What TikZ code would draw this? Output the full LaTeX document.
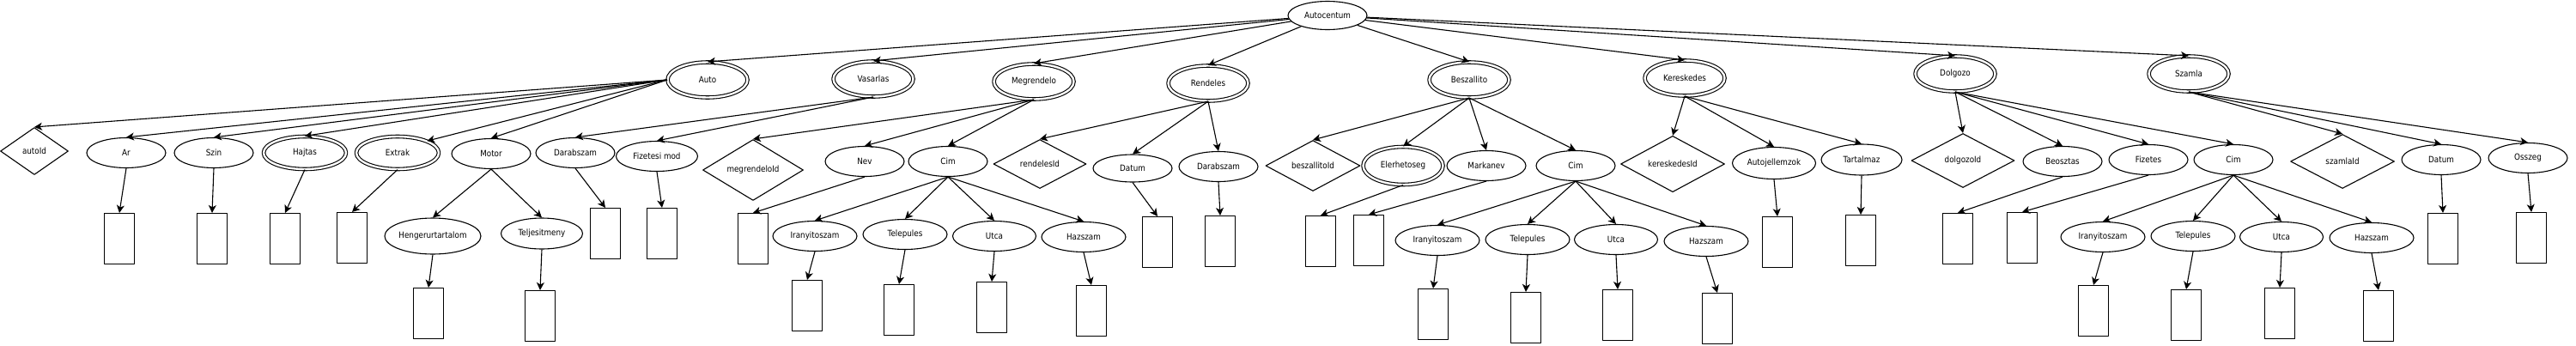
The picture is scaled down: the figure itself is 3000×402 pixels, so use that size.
\documentclass[tikz,border=0pt]{standalone}
\usepackage{fontspec}
\setmainfont{DejaVu Sans}[FakeStretch=0.88]
\usetikzlibrary{shapes.geometric,arrows.meta}
\begin{document}
\begin{tikzpicture}[x=1pt,y=-1pt,font=\fontsize{10}{12}\selectfont,line width=1.1pt,line join=round,>={Stealth[length=9pt,width=9pt,inset=2.5pt]},
	attr/.style={draw,ellipse,inner sep=0pt,minimum width=92pt,minimum height=35pt},
	ent/.style={attr,double,double distance=2.4pt,minimum width=93pt,minimum height=41pt},
	key/.style={draw,diamond,inner sep=0pt},
	val/.style={draw,inner sep=0pt,minimum width=35pt,minimum height=59pt}]
	\useasboundingbox (0,0) rectangle (3000,402);
	% gyoker es egyedek
	\node[attr,minimum height=33pt] (ac) at (1546,18) {Autocentum};
	\node[ent] (auto) at (824,93) {Auto};
	\node[ent] (vas) at (1017,92) {Vasarlas};
	\node[ent] (megr) at (1204,95) {Megrendelo};
	\node[ent] (rend) at (1407,97) {Rendeles};
	\node[ent] (besz) at (1711,93) {Beszallito};
	\node[ent] (ker) at (1962,91) {Kereskedes};
	\node[ent] (dolg) at (2277,86) {Dolgozo};
	\node[ent] (szla) at (2549,86) {Szamla};
	% Auto
	\node[key,minimum width=79pt,minimum height=55pt] (aId) at (40,176) {autoId};
	\node[attr] (ar) at (147,178) {Ar};
	\node[attr] (szin) at (249,178) {Szin};
	\node[ent,minimum width=96pt,minimum height=38pt] (hajt) at (355,178) {Hajtas};
	\node[ent,minimum width=96pt,minimum height=38pt] (extr) at (463,178) {Extrak};
	\node[attr] (mot) at (572,179) {Motor};
	\node[attr,minimum width=112pt,minimum height=42pt] (heng) at (504,275) {Hengerurtartalom};
	\node[attr,minimum width=95pt,minimum height=36pt] (telj) at (631,272) {Teljesitmeny};
	% Vasarlas
	\node[attr] (vdb) at (670,178) {Darabszam};
	\node[attr,minimum width=95pt] (vfiz) at (765,182) {Fizetesi mod};
	% Megrendelo
	\node[key,minimum width=117pt,minimum height=71pt] (mId) at (877,198) {megrendeloId};
	\node[attr] (mnev) at (1007,188) {Nev};
	\node[attr] (mcim) at (1104,188) {Cim};
	\node[attr,minimum width=98pt] (mir) at (949,275) {Iranyitoszam};
	\node[attr,minimum width=98pt] (mtel) at (1054,273) {Telepules};
	\node[attr,minimum width=97pt] (mut) at (1158,275) {Utca};
	\node[attr,minimum width=98pt] (mhaz) at (1262,276) {Hazszam};
	% Rendeles
	\node[key,minimum width=108pt,minimum height=57pt] (rId) at (1211,191) {rendelesId};
	\node[attr,minimum height=32pt] (rdat) at (1319,196) {Datum};
	\node[attr] (rdb) at (1419,194) {Darabszam};
	% Beszallito
	\node[key,minimum width=110pt,minimum height=59pt] (bId) at (1529,193) {beszallitoId};
	\node[ent,minimum height=44pt] (belr) at (1634,193) {Elerhetoseg};
	\node[attr] (bmk) at (1731,193) {Markanev};
	\node[attr] (bcim) at (1835,193) {Cim};
	\node[attr,minimum width=98pt] (bir) at (1674,280) {Iranyitoszam};
	\node[attr,minimum width=98pt] (btel) at (1779,279) {Telepules};
	\node[attr,minimum width=97pt] (but) at (1882,279) {Utca};
	\node[attr,minimum width=98pt] (bhaz) at (1987,281) {Hazszam};
	% Kereskedes
	\node[key,minimum width=121pt,minimum height=64pt] (kId) at (1948,191) {kereskedesId};
	\node[attr,minimum width=97pt,minimum height=37pt] (kaj) at (2066,190) {Autojellemzok};
	\node[attr,minimum width=94pt,minimum height=36pt] (ktart) at (2168,186) {Tartalmaz};
	% Dolgozo
	\node[key,minimum width=120pt,minimum height=63pt] (dId) at (2286,187) {dolgozoId};
	\node[attr] (dbeo) at (2402,188) {Beosztas};
	\node[attr] (dfiz) at (2502,186) {Fizetes};
	\node[attr] (dcim) at (2601,186) {Cim};
	\node[attr,minimum width=98pt] (dir) at (2449,276) {Iranyitoszam};
	\node[attr,minimum width=98pt] (dtel) at (2554,275) {Telepules};
	\node[attr,minimum width=97pt] (dut) at (2657,276) {Utca};
	\node[attr,minimum width=98pt] (dhaz) at (2762,277) {Hazszam};
	% Szamla
	\node[key,minimum width=121pt,minimum height=63pt] (sId) at (2728,188) {szamlaId};
	\node[attr] (sdat) at (2843,186) {Datum};
	\node[attr] (sossz) at (2944,184) {Osszeg};
	% elek
	\foreach \n in {auto,vas,megr,rend,besz,ker,dolg,szla} \draw[->] (ac) -- (\n.north);
	\foreach \n in {aId,ar,szin,hajt,mot} \draw[->] (auto.west) -- (\n.north);
	\draw[->] (auto.west) -- (extr.north east);
	\foreach \p/\c in {mot/heng,mot/telj,vas/vdb,vas/vfiz,megr/mId,megr/mnev,megr/mcim,rend/rId,rend/rdat,rend/rdb,besz/bId,besz/belr,besz/bmk,besz/bcim,ker/kId,ker/kaj,ker/ktart,dolg/dId,dolg/dbeo,dolg/dfiz,dolg/dcim,szla/sId,szla/sdat,szla/sossz}
		\draw[->] (\p.south) -- (\c.north);
	\foreach \c in {m,b,d} \foreach \n in {ir,tel,ut,haz} \draw[->] (\c cim.south) -- (\c\n.north);
	% ertek dobozok
	\foreach \n/\x/\y in {ar/139/278,szin/247/278,hajt/332/278,extr/410/277,heng/499/365,telj/629/368,vdb/705/272,vfiz/771/272,mnev/877/278,mir/940/356,mtel/1047/361,mut/1155/358,mhaz/1271/362,rdat/1348/282,rdb/1421/281,belr/1538/281,bmk/1594/280,bir/1669/366,btel/1777/370,but/1884/367,bhaz/2000/371,kaj/2070/282,ktart/2167/280,dbeo/2280/278,dfiz/2355/277,dir/2438/362,dtel/2546/367,dut/2655/365,dhaz/2770/368,sdat/2845/278,sossz/2948/277}
		{\node[val] (r\n) at (\x,\y) {}; \draw[->] (\n.south) -- (r\n.north);}
\end{tikzpicture}
\end{document}
